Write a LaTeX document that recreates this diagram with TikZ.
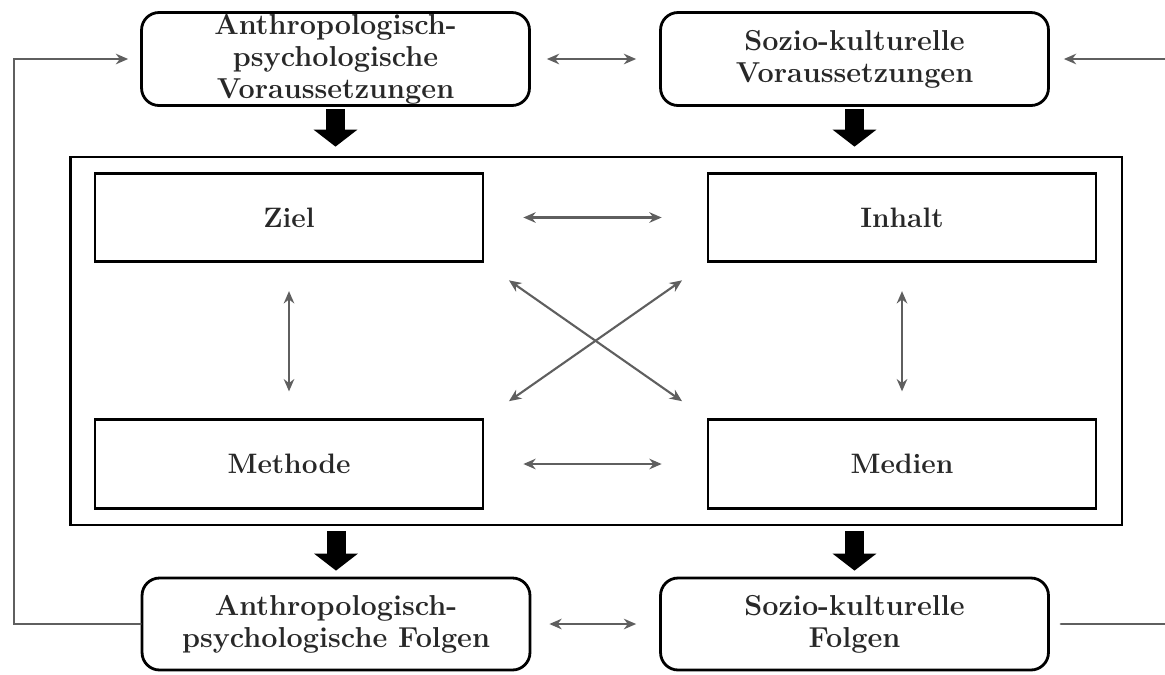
\documentclass[tikz,border=0pt]{standalone}
\usepackage{fontspec}
\usetikzlibrary{arrows.meta}
\definecolor{lnk}{RGB}{95,95,95}
\definecolor{txt}{RGB}{40,40,40}
\begin{document}
\begin{tikzpicture}[x=0.02cm,y=-0.02cm,line cap=round,
    stagebox/.style={draw,line width=1.6pt,rounded corners=0.35cm,minimum width=7.76cm,minimum height=1.86cm,
        inner sep=0pt,align=center,text=txt,font=\fontsize{16.4}{18.2}\selectfont\bfseries},
    partbox/.style={draw,line width=1.6pt,minimum width=7.76cm,minimum height=1.77cm,
        inner sep=0pt,text=txt,font=\fontsize{16}{18.2}\selectfont\bfseries},
    link/.style={draw=lnk,line width=1.2pt,{Stealth[length=7pt,width=6pt]}-{Stealth[length=7pt,width=6pt]}},
    backlink/.style={draw=lnk,line width=1.4pt},
    bigarrow/.style={line width=0.38cm,line cap=butt,-{Triangle[width=0.86cm,length=0.34cm]}}]
        \useasboundingbox (0,0) rectangle (1165,674);

        % the four stages outside the frame
        \node[stagebox] (tl) at (335.5,59) {Anthropologisch-\\psychologische\\Voraussetzungen};
        \node[stagebox] (tr) at (854.5,59) {Sozio-kulturelle\\Voraussetzungen};
        \node[stagebox,minimum height=1.84cm] (bl) at (336,624) {Anthropologisch-\\psychologische Folgen};
        \node[stagebox,minimum height=1.84cm] (br) at (854.5,624) {Sozio-kulturelle\\Folgen};

        % the frame and its four parts
        \node[draw,line width=1.6pt,minimum width=21.04cm,minimum height=7.36cm] (frame) at (596,341) {};
        \node[partbox] (ziel) at (289,217.5) {Ziel};
        \node[partbox] (inhalt) at (902,217.5) {Inhalt};
        \node[partbox] (methode) at (289,464) {Methode};
        \node[partbox] (medien) at (902,464) {Medien};

        % free ends at the sides
        \coordinate (ledge) at (14,0);
        \coordinate (redge) at (1165,0);

        % thick arrows into and out of the frame
        \foreach \a in {tl,tr}
                \draw[bigarrow,shorten <=0.04cm,shorten >=0.18cm] (\a.south) -- (\a.south |- frame.north);
        \foreach \b in {bl,br}
                \draw[bigarrow,shorten <=0.1cm,shorten >=0.12cm] (\b.north |- frame.south) -- (\b.north);

        % arrows between the stages
        \draw[link,shorten <=0.32cm,shorten >=0.46cm] (tl.east) -- (tr.east -| tr.west);
        \draw[link,shorten <=0.36cm,shorten >=0.46cm] (bl.east) -- (br.west);

        % feedback lines
        \draw[backlink,-{Stealth[length=7pt,width=6pt]},shorten >=0.24cm]
                (bl.west) -- (bl.west -| ledge) |- (tl.west);
        \draw[backlink,-{Stealth[length=7pt,width=6pt]},shorten >=0.28cm] (tr.east -| redge) -- (tr.east);
        \draw[backlink,shorten <=0.22cm] (br.east) -- (br.east -| redge);

        % arrows inside the frame
        \foreach \p/\q in {ziel/inhalt,methode/medien}
                \draw[link,shorten <=0.78cm,shorten >=0.9cm] (\p.east) -- (\q.west);
        \foreach \p/\q in {ziel/methode,inhalt/medien}
                \draw[link,shorten <=0.56cm,shorten >=0.54cm] (\p.south) -- (\q.north);
        \draw[link,shorten <=0.6cm,shorten >=0.6cm] (ziel.south east) -- (medien.north west);
        \draw[link,shorten <=0.6cm,shorten >=0.6cm] (inhalt.south west) -- (methode.north east);
\end{tikzpicture}
\end{document}
